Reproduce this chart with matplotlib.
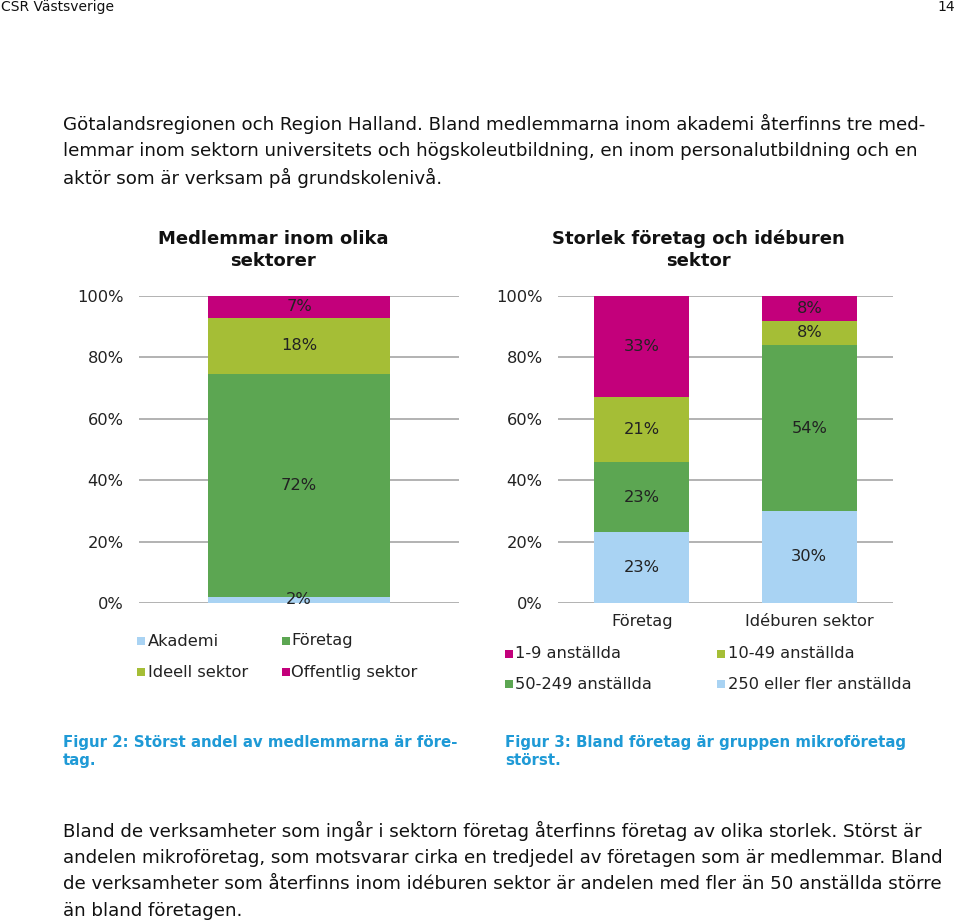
import matplotlib
matplotlib.use("Agg")
import matplotlib.pyplot as plt
from matplotlib.patches import Rectangle
from matplotlib.ticker import FuncFormatter

# ---------------- data ----------------
sector_categories = [""]
sector_labels = ["Akademi", "Företag", "Ideell sektor", "Offentlig sektor"]
sector_values = [[2], [72], [18], [7]]          # bottom -> top

size_categories = ["Företag", "Idéburen sektor"]
size_labels = ["250 eller fler anställda", "50-249 anställda", "10-49 anställda", "1-9 anställda"]
size_values = [[23, 30], [23, 54], [21, 8], [33, 8]]   # bottom -> top

yticks = [0, 20, 40, 60, 80, 100]

title_left = "Medlemmar inom olika\nsektorer"
title_right = "Storlek företag och idéburen\nsektor"

header_left = "CSR Västsverige"
header_right = "14"
body_top = ["Götalandsregionen och Region Halland. Bland medlemmarna inom akademi återfinns tre med-",
            "lemmar inom sektorn universitets och högskoleutbildning, en inom personalutbildning och en",
            "aktör som är verksam på grundskolenivå."]
caption_left = ["Figur 2: Störst andel av medlemmarna är före-", "tag."]
caption_right = ["Figur 3: Bland företag är gruppen mikroföretag", "störst."]
body_bottom = ["Bland de verksamheter som ingår i sektorn företag återfinns företag av olika storlek. Störst är",
               "andelen mikroföretag, som motsvarar cirka en tredjedel av företagen som är medlemmar. Bland",
               "de verksamheter som återfinns inom idéburen sektor är andelen med fler än 50 anställda större",
               "än bland företagen."]

# ---------------- style ----------------
C_BLUE = "#A9D3F3"
C_GREEN = "#5CA652"
C_LIME = "#A5BE36"
C_MAG = "#C3007B"
sector_colors = [C_BLUE, C_GREEN, C_LIME, C_MAG]
size_colors = [C_BLUE, C_GREEN, C_LIME, C_MAG]
GRID = "#A6A6A6"
CAPTION = "#1F9AD6"

W, H = 960, 921
fig = plt.figure(figsize=(W / 100, H / 100), dpi=100)
fig.patch.set_facecolor("white")

CHART_FONT = ["DejaVu Sans"]
BODY_FONT = ["DejaVu Sans"]
TICK_FS = 11.7


def fx(x):
    return x / W


def fy(y):
    return 1 - y / H


def axes_px(x0, y0, x1, y1):
    return fig.add_axes([fx(x0), fy(y1), (x1 - x0) / W, (y1 - y0) / H])


def stacked(ax, cats, values, colors, width):
    xs = list(range(len(cats)))
    totals = [sum(v[i] for v in values) for i in xs]
    bottoms = [0.0] * len(xs)
    for vals, col in zip(values, colors):
        heights = [vals[i] / totals[i] * 100 for i in xs]
        ax.bar(xs, heights, width, bottom=bottoms, color=col, zorder=2, linewidth=0)
        for i in xs:
            ax.text(xs[i], bottoms[i] + heights[i] / 2, f"{vals[i]}%", ha="center", va="center",
                    fontsize=TICK_FS, color="#222222", family=CHART_FONT, zorder=3)
        bottoms = [b + h for b, h in zip(bottoms, heights)]
    ax.set_xlim(-0.5, len(cats) - 0.5)
    ax.set_ylim(0, 100)
    ax.set_yticks(yticks)
    ax.yaxis.set_major_formatter(FuncFormatter(lambda v, p: f"{int(v)}%"))
    ax.grid(axis="y", color=GRID, linewidth=1.2, zorder=1)
    for s in ax.spines.values():
        s.set_visible(False)
    ax.tick_params(axis="y", length=0, pad=11, labelsize=TICK_FS, labelcolor="#222222")
    ax.tick_params(axis="x", length=0, pad=8, labelsize=TICK_FS, labelcolor="#222222")
    ax.set_xticks(xs)
    ax.set_xticklabels(cats, family=CHART_FONT)
    for t in ax.get_yticklabels():
        t.set_family(CHART_FONT)
    ax.set_facecolor("none")


# left chart
axL = axes_px(139, 296, 459, 603)
stacked(axL, sector_categories, sector_values, sector_colors, 0.57)

# right chart
axR = axes_px(558, 296, 893, 603)
stacked(axR, size_categories, size_values, size_colors, 0.567)

# titles
fig.text(fx(273), fy(250), title_left, ha="center", va="center", fontsize=13, fontweight="bold",
         family=CHART_FONT, linespacing=1.32, color="#111111")
fig.text(fx(698), fy(250), title_right, ha="center", va="center", fontsize=13, fontweight="bold",
         family=CHART_FONT, linespacing=1.32, color="#111111")


def legend(items, colors, positions):
    for lab, col, (sx, tx, y) in zip(items, colors, positions):
        fig.patches.append(Rectangle((fx(sx), fy(y + 4)), 8 / W, 8 / H, transform=fig.transFigure,
                                     facecolor=col, edgecolor="none"))
        fig.text(fx(tx), fy(y), lab, ha="left", va="center", fontsize=TICK_FS, family=CHART_FONT,
                 color="#222222")


# left legend (row-wise: Akademi, Företag / Ideell sektor, Offentlig sektor)
legend(sector_labels, sector_colors,
       [(137, 148, 641), (282, 291, 641), (137, 148, 672), (282, 291, 672)])
# right legend (row-wise: 1-9, 10-49 / 50-249, 250+)
legend(size_labels, size_colors,
       [(717, 728, 684), (505, 515, 684), (717, 728, 654), (505, 515, 654)])

# header / body text
fig.text(fx(1), fy(7), header_left, ha="left", va="center", fontsize=10, family=BODY_FONT,
         color="#111111")
fig.text(fx(955), fy(7), header_right, ha="right", va="center", fontsize=10, family=BODY_FONT,
         color="#111111")

BODY_FS = 13.15
for i, line in enumerate(body_top):
    fig.text(fx(63), fy(124 + 27 * i), line, ha="left", va="center", fontsize=BODY_FS,
             family=BODY_FONT, color="#111111")
for i, line in enumerate(body_bottom):
    fig.text(fx(63), fy(831 + 26.7 * i), line, ha="left", va="center", fontsize=BODY_FS,
             family=BODY_FONT, color="#111111")
CAP_FS = 10.8
for i, line in enumerate(caption_left):
    fig.text(fx(63), fy(742 + 18 * i), line, ha="left", va="center", fontsize=CAP_FS,
             fontweight="bold", family=BODY_FONT, color=CAPTION)
for i, line in enumerate(caption_right):
    fig.text(fx(505), fy(742 + 18 * i), line, ha="left", va="center", fontsize=CAP_FS,
             fontweight="bold", family=BODY_FONT, color=CAPTION)

fig.savefig("out.png", dpi=100, facecolor="white")
